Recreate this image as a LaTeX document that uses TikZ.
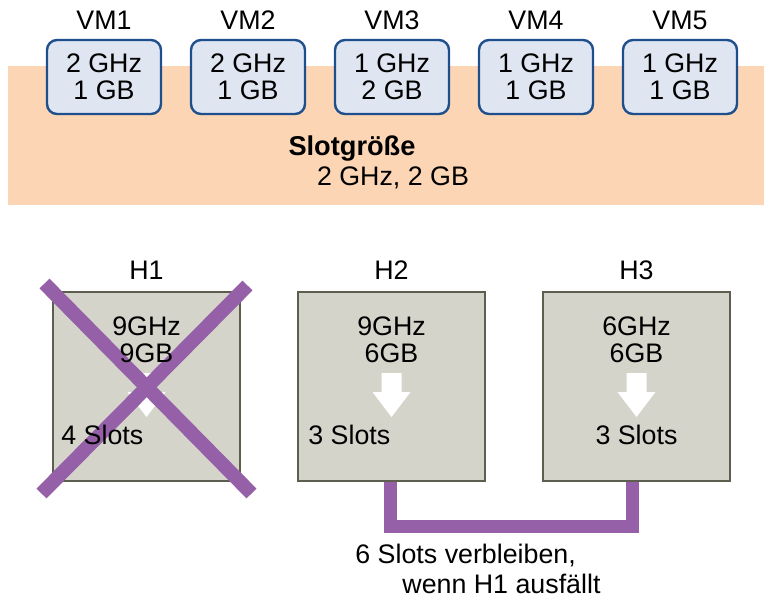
\documentclass[tikz,border=0pt]{standalone}
\usepackage{fontspec}
\setmainfont{Liberation Sans}
\usepackage{tikz}
\usetikzlibrary{positioning}
\definecolor{bandorange}{HTML}{FCD5B4}
\definecolor{vmfill}{HTML}{DFE6F2}
\definecolor{vmline}{HTML}{1F4E8C}
\definecolor{hostfill}{HTML}{D4D4CA}
\definecolor{hostline}{HTML}{5E5E4E}
\definecolor{failpurple}{HTML}{9560A8}
\newcommand{\slotarrow}[1]{\fill[white, shift={(#1)}] (-10,-13.5) -- (10,-13.5) -- (10,5.5) -- (19,5.5) -- (0,30.5) -- (-19,5.5) -- (-10,5.5) -- cycle;}

\begin{document}
\begin{tikzpicture}[x=0.5pt, y=-0.5pt,
    every node/.style={font=\fontsize{13.4pt}{13.3pt}\selectfont, inner sep=0pt},
    vm/.style={draw=vmline, fill=vmfill, line width=1.2pt, rounded corners=5pt,
      minimum width=57pt, minimum height=37pt, align=center,
      font=\fontsize{13.4pt}{13.6pt}\selectfont},
    host/.style={draw=hostline, fill=hostfill, line width=1pt,
      minimum width=93.5pt, minimum height=94.5pt},
    cross/.style={failpurple, line width=7pt},
    bracket/.style={failpurple, line width=6.5pt}]
    \useasboundingbox (0,0) rectangle (764,596);

    % Slotgroesse
    \fill[bandorange] (8,66) rectangle (764,205);
    \foreach \i/\x/\ghz/\gb in {1/104/2/1, 2/248/2/1, 3/392/1/2, 4/536/1/1, 5/680/1/1} {
        \node[vm] (vm\i) at (\x,77) {\ghz\ GHz\\\gb\ GB};
        \node[above=4.5pt of vm\i] (vm\i lbl) {VM\i};
    }
    \node[anchor=base, font=\fontsize{13.6pt}{13.6pt}\selectfont\bfseries] (slot) at (352,155) {Slotgröße};
    \node[anchor=base] (slotval) at (393,185) {2 GHz, 2 GB};

    % Hosts
    \node[host] (h1) at (146.5,386.5) {};
    \node[host] (h2) at (391.5,386.5) {};
    \node[host] (h3) at (636.5,386.5) {};
    \node[above=5.5pt of h1] (h1lbl) {H1};
    \node[above=5.5pt of h2] (h2lbl) {H2};
    \node[above=5.5pt of h3] (h3lbl) {H3};

    \slotarrow{h1.center}
    \slotarrow{h2.center}
    \slotarrow{h3.center}

    % H1 faellt aus
    \draw[cross] ([shift={(-102,-103)}]h1.center) -- ([shift={(105,107)}]h1.center);
    \draw[cross] ([shift={(101,-101)}]h1.center) -- ([shift={(-105,107)}]h1.center);

    \node[align=center] (h1res) at ([shift={(0,-46.5)}]h1.center) {9GHz\\9GB};
    \node[align=center] (h2res) at ([shift={(0,-46.5)}]h2.center) {9GHz\\6GB};
    \node[align=center] (h3res) at ([shift={(0,-46.5)}]h3.center) {6GHz\\6GB};
    \node[anchor=west] (h1slots) at ([shift={(-85.5,48.5)}]h1.center) {4 Slots};
    \node[anchor=west] (h2slots) at ([shift={(-83.5,48.5)}]h2.center) {3 Slots};
    \node (h3slots) at ([shift={(0,48.5)}]h3.center) {3 Slots};

    % verbleibende Slots
    \draw[bracket] ([shift={(-1.5,0)}]h2.south) -- ++(0,44) -| ([shift={(-4.5,0)}]h3.south);
    \node[anchor=base west] (rest1) at (355,563) {6 Slots verbleiben,};
    \node[anchor=base west] (rest2) at (402,593) {wenn H1 ausfällt};
\end{tikzpicture}
\end{document}
